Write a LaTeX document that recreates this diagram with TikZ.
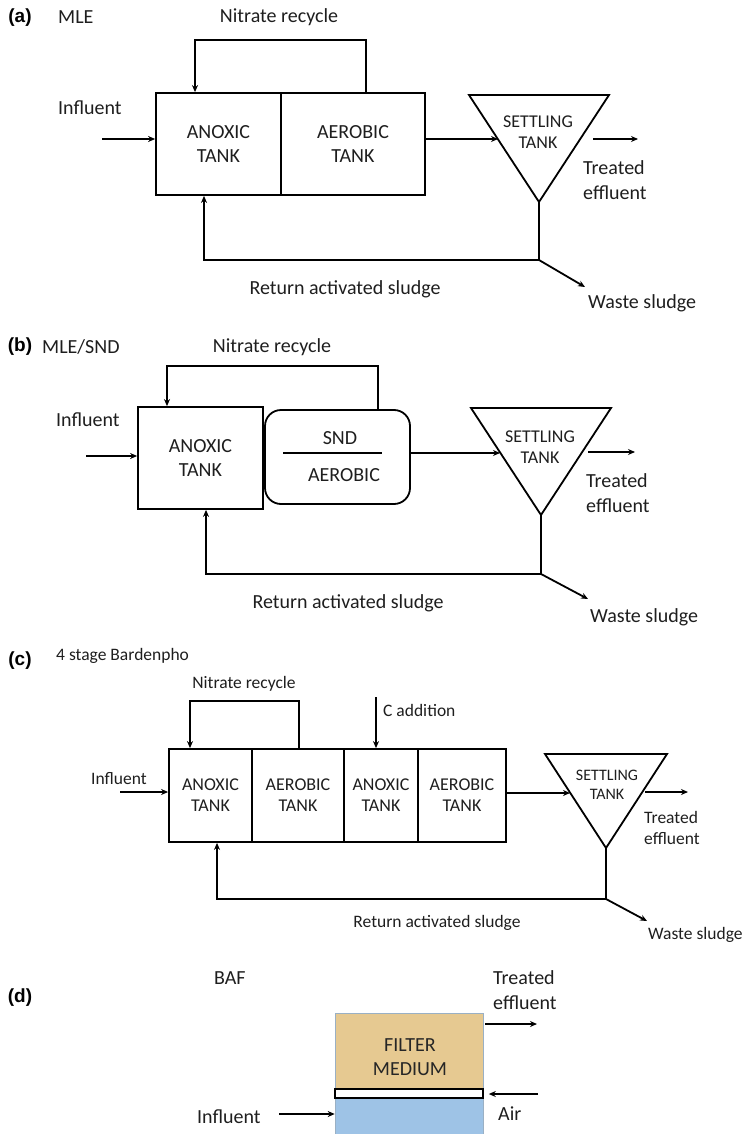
\documentclass[tikz,border=0pt]{standalone}
\usepackage{fontspec}
\setmainfont{Carlito}
\newfontfamily\labfont{Liberation Sans}
\usetikzlibrary{arrows.meta,calc}
\newcommand\fsL{\fontsize{20}{24.5}\selectfont}
\newcommand\fsM{\fontsize{18}{21}\selectfont}
\newcommand\fsS{\fontsize{17.5}{21}\selectfont}
\newcommand\fsT{\fontsize{16}{19}\selectfont}
\definecolor{txt}{HTML}{1E1E1E}
\definecolor{tan}{HTML}{E6C991}
\definecolor{bluef}{HTML}{9EC3E6}
\definecolor{edgeb}{HTML}{9AB0C4}
\begin{document}
\begin{tikzpicture}[x=1pt,y=-1pt,
 ln/.style={line width=1.8pt},
 arr/.style={line width=1.8pt,-{Stealth[length=7pt,width=6pt]}},
 tank/.style={draw,line width=1.8pt,inner sep=0pt,align=center,text=txt},
 lbl/.style={inner sep=0pt,text=txt},
 panel/.style={inner sep=0pt,font=\labfont\bfseries\fontsize{19}{22}\selectfont,text=black}]
\useasboundingbox (0,0) rectangle (743,1134);

% ================= (a) =================
\node[panel] (pa) at (20,18) {(a)};
\node[lbl,anchor=west,font=\fsL] (ta) at (58,17) {MLE};
\node[lbl,font=\fsL] (nra) at (279,17) {Nitrate recycle};
\node[tank,font=\fsL,minimum width=125pt,minimum height=102pt] (anoxA) at (218.5,144) {ANOXIC\\TANK};
\node[tank,font=\fsL,minimum width=144pt,minimum height=102pt] (aerA) at (353,144) {AEROBIC\\TANK};
\coordinate (rA1) at (366,40);
\coordinate (rA2) at (195,40);
\draw[arr] (rA1 |- aerA.north) -- (rA1) -- (rA2) -- (rA2 |- anoxA.north);
\node[lbl,anchor=west,font=\fsL] (infA) at (58,108) {Influent};
\coordinate (iA) at (102,139);
\draw[arr] (iA) -- (iA -| anoxA.west);
\coordinate (tA1) at (469,95);
\coordinate (tA2) at (609,95);
\coordinate (tA3) at (539,202);
\coordinate (tAin) at (498,139);
\draw[ln] (tA1) -- (tA2) -- (tA3) -- cycle;
\node[lbl,font=\fsM,align=center] (setA) at (538,132) {SETTLING\\TANK};
\draw[arr] (aerA.east |- tAin) -- (tAin);
\coordinate (eA1) at (593,139);
\coordinate (eA2) at (638,139);
\draw[arr] (eA1) -- (eA2);
\node[lbl,anchor=west,font=\fsL,align=left] (trA) at (583,180) {Treated\\effluent};
\coordinate (jA) at (539,260);
\coordinate (rcA) at (204,260);
\coordinate (wA) at (585,287);
\draw[arr] (tA3) -- (jA) -- (rcA) -- (rcA |- anoxA.south);
\draw[arr] (jA) -- (wA);
\node[lbl,font=\fsL] (rasA) at (345,289) {Return activated sludge};
\node[lbl,anchor=west,font=\fsL] (wsA) at (588,303) {Waste sludge};

% ================= (b) =================
\node[panel] (pb) at (20,347) {(b)};
\node[lbl,anchor=west,font=\fsL] (tb) at (42,347) {MLE/SND};
\node[lbl,font=\fsL] (nrb) at (272,347) {Nitrate recycle};
\node[tank,font=\fsL,minimum width=125pt,minimum height=102pt] (anoxB) at (200.5,458) {ANOXIC\\TANK};
\node[draw,line width=1.8pt,rounded corners=16pt,minimum width=145pt,minimum height=94pt,inner sep=0pt] (sndB) at (337.5,457) {};
\node[lbl,font=\fsL] (sndT) at (340,438) {SND};
\node[lbl,font=\fsL] (aerT) at (344,475) {AEROBIC};
\coordinate (sl1) at (283,453);
\coordinate (sl2) at (382,453);
\draw[ln] (sl1) -- (sl2);
\coordinate (rB1) at (378,366);
\coordinate (rB2) at (167,366);
\draw[arr] (rB1 |- sndB.north) -- (rB1) -- (rB2) -- (rB2 |- anoxB.north);
\node[lbl,anchor=west,font=\fsL] (infB) at (56,420) {Influent};
\coordinate (iB) at (86,456);
\draw[arr] (iB) -- (iB -| anoxB.west);
\coordinate (tB1) at (471,408);
\coordinate (tB2) at (611,408);
\coordinate (tB3) at (541,515);
\coordinate (tBin) at (500,453);
\draw[ln] (tB1) -- (tB2) -- (tB3) -- cycle;
\node[lbl,font=\fsM,align=center] (setB) at (540,447) {SETTLING\\TANK};
\draw[arr] (sndB.east |- tBin) -- (tBin);
\coordinate (eB1) at (588,452);
\coordinate (eB2) at (635,452);
\draw[arr] (eB1) -- (eB2);
\node[lbl,anchor=west,font=\fsL,align=left] (trB) at (586,493) {Treated\\effluent};
\coordinate (jB) at (541,574);
\coordinate (rcB) at (206,574);
\coordinate (wB) at (588,599);
\draw[arr] (tB3) -- (jB) -- (rcB) -- (rcB |- anoxB.south);
\draw[arr] (jB) -- (wB);
\node[lbl,font=\fsL] (rasB) at (348,603) {Return activated sludge};
\node[lbl,anchor=west,font=\fsL] (wsB) at (590,617) {Waste sludge};

% ================= (c) =================
\node[panel] (pc) at (20,661) {(c)};
\node[lbl,anchor=west,font=\fsS] (tc) at (56,656) {4 stage Bardenpho};
\node[lbl,font=\fsS] (nrc) at (244,684) {Nitrate recycle};
\node[tank,font=\fsM,minimum width=83pt,minimum height=93pt] (anoxC1) at (210.5,795.5) {ANOXIC\\TANK};
\node[tank,font=\fsM,minimum width=92pt,minimum height=93pt] (aerC1) at (298,795.5) {AEROBIC\\TANK};
\node[tank,font=\fsM,minimum width=74pt,minimum height=93pt] (anoxC2) at (381,795.5) {ANOXIC\\TANK};
\node[tank,font=\fsM,minimum width=88pt,minimum height=93pt] (aerC2) at (462,795.5) {AEROBIC\\TANK};
\coordinate (rC1) at (299,701);
\coordinate (rC2) at (190,701);
\draw[arr] (rC1 |- aerC1.north) -- (rC1) -- (rC2) -- (rC2 |- anoxC1.north);
\coordinate (cadd) at (376,697);
\draw[arr] (cadd) -- (cadd |- anoxC2.north);
\node[lbl,anchor=west,font=\fsS] (cat) at (383,710) {C addition};
\node[lbl,anchor=west,font=\fsS] (infC) at (91,779) {Influent};
\coordinate (iC) at (120,792);
\draw[arr] (iC) -- (iC -| anoxC1.west);
\coordinate (tC1) at (545,754);
\coordinate (tC2) at (667,754);
\coordinate (tC3) at (606,848);
\coordinate (tCin) at (570,793);
\draw[ln] (tC1) -- (tC2) -- (tC3) -- cycle;
\node[lbl,font=\fsT,align=center] (setC) at (607,785) {SETTLING\\TANK};
\draw[arr] (aerC2.east |- tCin) -- (tCin);
\coordinate (eC1) at (645,792);
\coordinate (eC2) at (688,792);
\draw[arr] (eC1) -- (eC2);
\node[lbl,anchor=west,font=\fsS,align=left] (trC) at (644,828) {Treated\\effluent};
\coordinate (jC) at (606,899);
\coordinate (rcC) at (217,899);
\coordinate (wC) at (647,921);
\draw[arr] (tC3) -- (jC) -- (rcC) -- (rcC |- anoxC1.south);
\draw[arr] (jC) -- (wC);
\node[lbl,font=\fsS] (rasC) at (437,923) {Return activated sludge};
\node[lbl,anchor=west,font=\fsS] (wsC) at (648,935) {Waste sludge};

% ================= (d) =================
\node[panel] (pd) at (20,998) {(d)};
\node[lbl,anchor=west,font=\fsL] (td) at (214,978) {BAF};
\node[lbl,anchor=west,font=\fsL,align=left] (trD) at (493,990) {Treated\\effluent};
\node[fill=tan,draw=edgeb,line width=0.6pt,minimum width=148pt,minimum height=76pt,inner sep=0pt] (filt) at (409,1051) {};
\node[fill=bluef,draw=edgeb,line width=0.6pt,minimum width=148pt,minimum height=38pt,inner sep=0pt] (wat) at (409,1117) {};
\node[fill=white,draw=black,line width=1.6pt,minimum width=148pt,minimum height=9pt,inner sep=0pt] (strip) at (409,1093.5) {};
\node[lbl,font=\fsL,align=center,text=black!85] (fm) at (410,1057) {FILTER\\MEDIUM};
\coordinate (eD) at (537,1024);
\draw[arr] (filt.east |- eD) ++(2,0) -- (eD);
\coordinate (aD) at (538,1094);
\draw[arr] (aD) -- ([xshift=5pt]strip.east |- aD);
\node[lbl,anchor=west,font=\fsL] (airD) at (498,1114) {Air};
\node[lbl,anchor=west,font=\fsL] (infD) at (197,1117) {Influent};
\coordinate (iD) at (279,1114);
\draw[arr] (iD) -- (iD -| wat.west);
\end{tikzpicture}
\end{document}
